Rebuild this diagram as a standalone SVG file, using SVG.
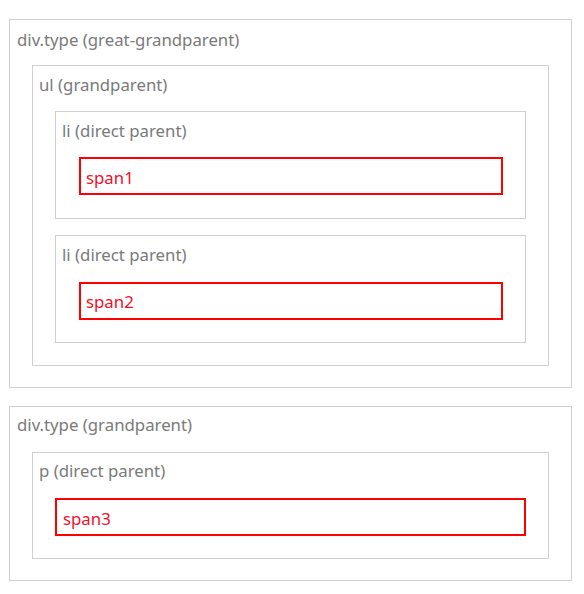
<svg xmlns="http://www.w3.org/2000/svg" width="584" height="594" viewBox="0 0 584 594">
<style>
.box{fill:#fff;stroke:#d0d0d0;stroke-width:1}
.span{fill:#fff;stroke:#f00;stroke-width:2}
.lbl{font-family:"Noto Sans","Open Sans",sans-serif;font-size:16.8px;fill:#7a7a7a}
.sl{font-family:"Noto Sans","Open Sans",sans-serif;font-size:16.8px;fill:#f0102a}
</style>
<rect width="584" height="594" fill="#fff"/>
<g id="div1">
<rect class="box" x="9.5" y="19.5" width="562" height="368"/>
<text class="lbl" x="17" y="46">div.type (great-grandparent)</text>
</g>
<g id="ul">
<rect class="box" x="32.5" y="65.5" width="516" height="300"/>
<text class="lbl" x="39" y="91">ul (grandparent)</text>
</g>
<g id="li1">
<rect class="box" x="55.5" y="111.5" width="470" height="107"/>
<text class="lbl" x="62" y="137">li (direct parent)</text>
</g>
<g id="span1">
<rect class="span" x="80" y="158" width="422" height="36"/>
<text class="sl" x="86" y="184">span1</text>
</g>
<g id="li2">
<rect class="box" x="55.5" y="235.5" width="470" height="107"/>
<text class="lbl" x="62" y="261">li (direct parent)</text>
</g>
<g id="span2">
<rect class="span" x="80" y="283" width="422" height="36"/>
<text class="sl" x="86" y="308">span2</text>
</g>
<g id="div2">
<rect class="box" x="9.5" y="406.5" width="562" height="174"/>
<text class="lbl" x="17" y="431">div.type (grandparent)</text>
</g>
<g id="p">
<rect class="box" x="32.5" y="452.5" width="516" height="106"/>
<text class="lbl" x="39" y="477">p (direct parent)</text>
</g>
<g id="span3">
<rect class="span" x="56" y="499" width="469" height="36"/>
<text class="sl" x="63" y="525">span3</text>
</g>
<g id="connectors"/>
</svg>
